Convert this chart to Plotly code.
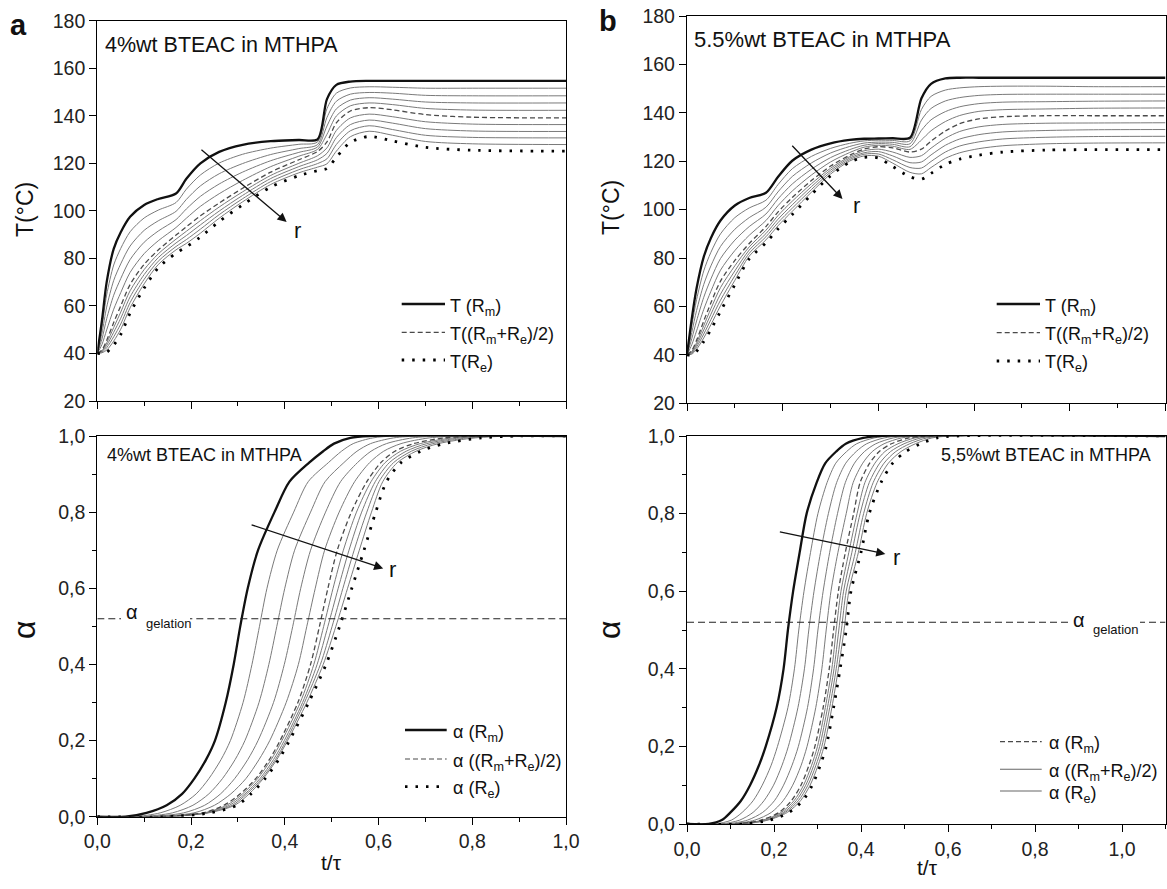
import plotly.graph_objects as go

W, H = 1167, 889
FONT = "Liberation Sans, Arial, Helvetica, sans-serif"

# ---------------- top-left : T vs t/tau, 4%wt BTEAC ----------------
t_top_4 = [0, 0.01, 0.02, 0.035, 0.05, 0.07, 0.1, 0.13, 0.168, 0.19, 0.22, 0.26, 0.31, 0.37,
           0.43, 0.47, 0.49, 0.51, 0.54, 0.58, 0.63, 0.7, 0.8, 1.0]
T4_r0 = [40, 54, 70, 84, 91, 97.5, 102.5, 105, 107.3, 113.5, 120, 124.8, 127.8, 129.3, 129.8, 130.1, 147, 153, 154.4, 154.7, 154.7, 154.7, 154.7, 154.7]
T4_r1 = [40, 51.3, 64.6, 77.2, 84.2, 91.2, 97, 100.3, 103.5, 109.1, 115.1, 120.1, 123.8, 126.4, 128, 129, 143, 149.5, 151.7, 152.2, 152, 151.6, 151.6, 151.6]
T4_r2 = [40, 48.6, 59.5, 70.7, 77.7, 85.2, 91.8, 95.8, 99.8, 104.8, 110.5, 115.6, 119.9, 123.7, 126.2, 127.9, 139.3, 146.1, 149.1, 149.8, 149.5, 148.6, 148.4, 148.4]
T4_r3 = [40, 46.1, 54.6, 64.5, 71.5, 79.5, 86.8, 91.5, 96.3, 100.8, 106.1, 111.3, 116.3, 121.1, 124.6, 126.9, 135.7, 142.9, 146.6, 147.6, 147, 145.8, 145.4, 145.4]
T4_r4 = [40, 43.8, 49.9, 58.6, 65.6, 74.1, 82, 87.4, 93, 96.9, 101.9, 107.2, 112.8, 118.6, 123, 125.9, 132.2, 139.9, 144.2, 145.4, 144.7, 143.1, 142.4, 142.3]
T4_r5 = [40, 41.5, 45.5, 53, 60, 69, 77.5, 83.5, 89.8, 93.3, 97.9, 103.3, 109.5, 116.3, 121.5, 125, 129, 137, 142, 143.4, 142.5, 140.5, 139.4, 139.1]
T4_r6 = [40, 41.2, 44.4, 50.9, 57.4, 66.4, 75.3, 81.9, 88.1, 91.4, 95.9, 101.6, 108, 114.9, 120, 123.2, 126.5, 133.8, 139.1, 140.7, 139.6, 137.5, 136.5, 136.3]
T4_r7 = [40, 40.9, 43.4, 48.9, 54.8, 63.8, 73.2, 80.3, 86.5, 89.6, 94.1, 99.9, 106.5, 113.6, 118.6, 121.5, 124.2, 130.8, 136.3, 138.2, 136.9, 134.6, 133.6, 133.4]
T4_r8 = [40, 40.6, 42.4, 47, 52.4, 61.4, 71.2, 78.8, 85, 87.9, 92.3, 98.4, 105.1, 112.3, 117.3, 119.9, 121.9, 127.9, 133.7, 135.8, 134.2, 131.8, 130.9, 130.7]
T4_r9 = [40, 40.3, 41.4, 45.2, 50.2, 59.2, 69.3, 77.4, 83.6, 86.3, 90.6, 96.9, 103.8, 111.1, 116, 118.4, 119.8, 125.1, 131.2, 133.5, 131.8, 129.2, 128.2, 127.9]
T4_r10 = [40, 40, 40.5, 43.5, 48, 57, 67.5, 76, 82.2, 84.8, 89, 95.5, 102.5, 110, 114.8, 116.9, 117.8, 122.5, 128.8, 131.3, 129.4, 126.7, 125.5, 125.1]

# ---------------- top-right : T vs t/tau, 5.5%wt BTEAC ----------------
t_top_55 = [0, 0.01, 0.02, 0.035, 0.05, 0.07, 0.1, 0.13, 0.165, 0.19, 0.22, 0.26, 0.3, 0.34,
            0.37, 0.4, 0.43, 0.466, 0.49, 0.51, 0.54, 0.57, 0.61, 0.66, 0.75, 0.85, 1.0]
T55_r0 = [40, 55, 67.5, 80.5, 88.3, 95.5, 101.7, 104.8, 107, 113.5, 120.2, 124.8, 127.4, 128.8, 129.3, 129.4, 129.5, 129.7, 146, 152, 154.2, 154.5, 154.5, 154.5, 154.5, 154.5, 154.5]
T55_r1 = [40, 52.1, 62.8, 74.7, 82.4, 90, 96.7, 100.7, 103.9, 110.3, 116.9, 122, 125.3, 127.4, 128.4, 128.7, 128.6, 128.4, 141.4, 146.8, 149.4, 150.3, 150.8, 151, 151, 150.8, 150.8]
T55_r2 = [40, 49.3, 58.3, 69.1, 76.8, 84.8, 91.9, 96.7, 101, 107.3, 113.7, 119.3, 123.4, 126.1, 127.5, 127.9, 127.8, 127.2, 137, 141.8, 144.9, 146.3, 147.2, 147.6, 147.7, 147.7, 147.7]
T55_r3 = [40, 46.7, 54, 63.8, 71.4, 79.8, 87.4, 93, 98.2, 104.4, 110.6, 116.7, 121.5, 124.8, 126.6, 127.3, 127, 126, 132.8, 137.1, 140.5, 142.5, 143.8, 144.4, 144.6, 144.8, 144.9]
T55_r4 = [40, 44.2, 49.9, 58.8, 66.3, 75, 83.1, 89.4, 95.5, 101.6, 107.7, 114.3, 119.7, 123.6, 125.8, 126.6, 126.2, 124.9, 128.8, 132.6, 136.4, 138.9, 140.6, 141.3, 141.6, 141.9, 142]
T55_r5 = [40, 41.8, 46, 54, 61.5, 70.5, 79, 86, 93, 99, 105, 112, 118, 122.5, 125, 126, 125.5, 123.8, 125, 128.3, 132.5, 135.5, 137.5, 138.4, 138.8, 138.8, 138.8]
T55_r6 = [40, 41.4, 45, 52.1, 59.1, 67.8, 76.8, 84.6, 91.5, 97.5, 103.5, 110.7, 117.1, 121.9, 124.3, 125, 123.8, 121.6, 122.3, 125.4, 129.5, 132.3, 134.2, 135.2, 135.7, 135.8, 135.9]
T55_r7 = [40, 41, 44.1, 50.3, 56.8, 65.1, 74.7, 83.3, 90.1, 96, 102, 109.5, 116.3, 121.3, 123.5, 124, 122.2, 119.4, 119.7, 122.6, 126.6, 129.2, 131, 132.1, 132.7, 133, 133.1]
T55_r8 = [40, 40.7, 43.2, 48.6, 54.6, 62.6, 72.7, 82, 88.8, 94.6, 100.6, 108.3, 115.5, 120.7, 122.9, 123, 120.6, 117.4, 117.2, 119.9, 123.8, 126.3, 128, 129.2, 129.9, 130.2, 130.3]
T55_r9 = [40, 40.3, 42.3, 47, 52.5, 60.3, 70.8, 80.8, 87.5, 93.3, 99.3, 107.2, 114.7, 120.1, 122.2, 122.1, 119.2, 115.4, 114.8, 117.4, 121.2, 123.5, 125.2, 126.4, 127.2, 127.5, 127.6]
T55_r10 = [40, 40, 41.5, 45.5, 50.5, 58, 69, 79.7, 86.3, 92, 98, 106.2, 114, 119.6, 121.6, 121.3, 117.8, 113.6, 112.6, 115, 118.7, 120.9, 122.5, 123.8, 124.6, 124.8, 124.8]

# ---------------- bottom panels : alpha levels and the t/tau where each radius reaches them ----------------
alpha_levels = [0, 0, 0.01, 0.03, 0.06, 0.1, 0.15, 0.2, 0.3, 0.4, 0.5, 0.6, 0.7, 0.8, 0.88, 0.93, 0.96, 0.98, 0.995, 1.0, 1.0]

a4_t_r0 = [0, 0.06, 0.105, 0.148, 0.181, 0.207, 0.232, 0.251, 0.274, 0.291, 0.305, 0.321, 0.343, 0.378, 0.41, 0.452, 0.482, 0.505, 0.54, 0.58, 1.0]
a4_t_r1 = [0, 0.077, 0.134, 0.177, 0.211, 0.238, 0.264, 0.284, 0.311, 0.33, 0.346, 0.362, 0.384, 0.419, 0.45, 0.493, 0.521, 0.546, 0.588, 0.638, 1.0]
a4_t_r2 = [0, 0.092, 0.16, 0.204, 0.238, 0.267, 0.294, 0.315, 0.345, 0.366, 0.383, 0.4, 0.421, 0.455, 0.486, 0.526, 0.554, 0.583, 0.632, 0.69, 1.0]
a4_t_r3 = [0, 0.106, 0.184, 0.229, 0.263, 0.293, 0.321, 0.343, 0.376, 0.399, 0.417, 0.434, 0.455, 0.487, 0.519, 0.555, 0.584, 0.617, 0.672, 0.738, 1.0]
a4_t_r4 = [0, 0.119, 0.206, 0.25, 0.285, 0.317, 0.345, 0.368, 0.403, 0.429, 0.447, 0.465, 0.485, 0.516, 0.549, 0.581, 0.611, 0.648, 0.708, 0.782, 1.0]
a4_t_r5 = [0, 0.13, 0.225, 0.27, 0.305, 0.338, 0.367, 0.39, 0.428, 0.455, 0.474, 0.492, 0.512, 0.542, 0.575, 0.605, 0.635, 0.675, 0.74, 0.82, 1.0]
a4_t_r6 = [0, 0.134, 0.228, 0.276, 0.31, 0.342, 0.371, 0.394, 0.433, 0.462, 0.483, 0.503, 0.525, 0.553, 0.584, 0.614, 0.647, 0.689, 0.758, 0.838, 1.0]
a4_t_r7 = [0, 0.139, 0.231, 0.282, 0.315, 0.347, 0.376, 0.399, 0.438, 0.469, 0.492, 0.514, 0.537, 0.564, 0.593, 0.623, 0.659, 0.703, 0.774, 0.854, 1.0]
a4_t_r8 = [0, 0.143, 0.234, 0.288, 0.319, 0.351, 0.38, 0.403, 0.442, 0.476, 0.501, 0.524, 0.548, 0.575, 0.601, 0.632, 0.67, 0.716, 0.79, 0.87, 1.0]
a4_t_r9 = [0, 0.146, 0.237, 0.293, 0.324, 0.354, 0.383, 0.406, 0.447, 0.482, 0.509, 0.534, 0.559, 0.585, 0.609, 0.64, 0.68, 0.728, 0.806, 0.886, 1.0]
a4_t_r10 = [0, 0.15, 0.24, 0.298, 0.328, 0.358, 0.387, 0.41, 0.451, 0.488, 0.517, 0.543, 0.569, 0.594, 0.617, 0.648, 0.69, 0.74, 0.82, 0.9, 1.0]

a55_t_r0 = [0, 0.05, 0.08, 0.1, 0.124, 0.145, 0.165, 0.181, 0.206, 0.222, 0.232, 0.244, 0.259, 0.275, 0.298, 0.318, 0.343, 0.365, 0.405, 0.44, 1.1]
a55_t_r1 = [0, 0.064, 0.102, 0.127, 0.152, 0.173, 0.193, 0.208, 0.232, 0.247, 0.257, 0.269, 0.284, 0.301, 0.322, 0.342, 0.367, 0.39, 0.43, 0.469, 1.1]
a55_t_r2 = [0, 0.078, 0.121, 0.152, 0.177, 0.199, 0.218, 0.233, 0.255, 0.27, 0.28, 0.292, 0.307, 0.325, 0.344, 0.365, 0.389, 0.413, 0.453, 0.495, 1.1]
a55_t_r3 = [0, 0.09, 0.139, 0.174, 0.201, 0.222, 0.241, 0.256, 0.277, 0.291, 0.301, 0.313, 0.328, 0.346, 0.364, 0.385, 0.408, 0.434, 0.474, 0.519, 1.1]
a55_t_r4 = [0, 0.1, 0.156, 0.194, 0.221, 0.243, 0.262, 0.276, 0.296, 0.31, 0.32, 0.331, 0.347, 0.366, 0.382, 0.404, 0.426, 0.453, 0.493, 0.541, 1.1]
a55_t_r5 = [0, 0.11, 0.17, 0.212, 0.24, 0.262, 0.28, 0.294, 0.313, 0.327, 0.337, 0.348, 0.364, 0.383, 0.398, 0.42, 0.442, 0.47, 0.51, 0.56, 1.1]
a55_t_r6 = [0, 0.114, 0.174, 0.217, 0.246, 0.268, 0.286, 0.3, 0.318, 0.333, 0.343, 0.354, 0.372, 0.391, 0.409, 0.432, 0.455, 0.485, 0.524, 0.573, 1.1]
a55_t_r7 = [0, 0.119, 0.179, 0.222, 0.251, 0.273, 0.291, 0.305, 0.323, 0.338, 0.349, 0.36, 0.379, 0.398, 0.419, 0.443, 0.468, 0.499, 0.538, 0.586, 1.1]
a55_t_r8 = [0, 0.123, 0.183, 0.226, 0.256, 0.278, 0.296, 0.31, 0.328, 0.343, 0.355, 0.366, 0.387, 0.406, 0.428, 0.453, 0.48, 0.512, 0.551, 0.598, 1.1]
a55_t_r9 = [0, 0.126, 0.186, 0.231, 0.261, 0.283, 0.301, 0.315, 0.333, 0.348, 0.361, 0.372, 0.394, 0.413, 0.437, 0.463, 0.492, 0.525, 0.563, 0.609, 1.1]
a55_t_r10 = [0, 0.13, 0.19, 0.235, 0.266, 0.288, 0.306, 0.32, 0.337, 0.352, 0.366, 0.377, 0.4, 0.419, 0.446, 0.473, 0.503, 0.537, 0.575, 0.62, 1.1]

alpha_gelation = 0.52
x_range_bottom_right = [0, 1.1]

T4 = [T4_r0, T4_r1, T4_r2, T4_r3, T4_r4, T4_r5, T4_r6, T4_r7, T4_r8, T4_r9, T4_r10]
T55 = [T55_r0, T55_r1, T55_r2, T55_r3, T55_r4, T55_r5, T55_r6, T55_r7, T55_r8, T55_r9, T55_r10]
A4 = [a4_t_r0, a4_t_r1, a4_t_r2, a4_t_r3, a4_t_r4, a4_t_r5, a4_t_r6, a4_t_r7, a4_t_r8, a4_t_r9, a4_t_r10]
A55 = [a55_t_r0, a55_t_r1, a55_t_r2, a55_t_r3, a55_t_r4, a55_t_r5, a55_t_r6, a55_t_r7, a55_t_r8, a55_t_r9, a55_t_r10]

# ---------------- styles ----------------
THICK = dict(color="#111111", width=2.3)
DASHED = dict(color="#4a4a4a", width=1.3, dash="5px,3px")
DOTTED = dict(color="#000000", width=2.8, dash="2.5px,8px")
THIN = dict(color="#7a7a7a", width=1.0)


def line_style(i):
    if i == 0:
        return THICK
    if i == 5:
        return DASHED
    if i == 10:
        return DOTTED
    return THIN


ORDER = [1, 2, 3, 4, 6, 7, 8, 9, 5, 10, 0]

fig = go.Figure()


def add_family(xs, ys, xa, ya):
    for i in ORDER:
        fig.add_trace(go.Scatter(
            x=xs[i], y=ys[i], mode="lines", xaxis=xa, yaxis=ya,
            line=dict(shape="spline", smoothing=0.8, **line_style(i)),
            hoverinfo="skip", showlegend=False))


add_family([t_top_4] * 11, T4, "x", "y")
add_family([t_top_55] * 11, T55, "x2", "y2")
add_family(A4, [alpha_levels] * 11, "x3", "y3")
add_family(A55, [alpha_levels] * 11, "x4", "y4")

# gelation lines
fig.add_trace(go.Scatter(x=[0, 1.0], y=[alpha_gelation] * 2, mode="lines", xaxis="x3", yaxis="y3",
                         line=dict(color="#222", width=1.1, dash="7px,4px"), hoverinfo="skip", showlegend=False))
fig.add_trace(go.Scatter(x=x_range_bottom_right, y=[alpha_gelation] * 2, mode="lines", xaxis="x4", yaxis="y4",
                         line=dict(color="#222", width=1.1, dash="7px,4px"), hoverinfo="skip", showlegend=False))

# ---------------- axes ----------------
TICKFONT = dict(family=FONT, size=19.5, color="#222")
common = dict(showgrid=False, zeroline=False, showline=True, linecolor="black", linewidth=1.3,
              mirror=True, ticks="outside", tickcolor="black", tickwidth=1.3, ticklen=7,
              tickfont=TICKFONT, automargin=False)
minor_x = dict(dtick=0.1, tick0=0, ticks="outside", ticklen=4, tickcolor="black", tickwidth=1.2)


def px(x):
    return x / W


def py(y):
    return 1 - y / H


L_DOM = [px(97.3), px(566)]
R_DOM = [px(687), px(1165.5)]

fig.update_layout(
    width=W, height=H, autosize=False,
    margin=dict(l=0, r=0, t=0, b=0, pad=0),
    paper_bgcolor="white", plot_bgcolor="white",
    separators=",.",
    xaxis=dict(common, domain=L_DOM, range=[0, 1], anchor="y", dtick=0.2, tick0=0,
               showticklabels=False, minor=minor_x),
    yaxis=dict(common, domain=[py(401), py(20.7)], range=[20, 180], anchor="x", dtick=20, tick0=20),
    xaxis2=dict(common, domain=R_DOM, range=[0, 1], anchor="y2", dtick=0.2, tick0=0,
                showticklabels=False, minor=minor_x),
    yaxis2=dict(common, domain=[py(403.3), py(16)], range=[20, 180], anchor="x2", dtick=20, tick0=20),
    xaxis3=dict(common, domain=L_DOM, range=[0, 1], anchor="y3", dtick=0.2, tick0=0,
                tickformat=".1f", minor=minor_x),
    yaxis3=dict(common, domain=[py(816.7), py(436)], range=[0, 1], anchor="x3", dtick=0.2, tick0=0,
                tickformat=".1f", minor=dict(minor_x)),
    xaxis4=dict(common, domain=R_DOM, range=x_range_bottom_right, anchor="y4", dtick=0.2, tick0=0,
                tickformat=".1f", minor=minor_x),
    yaxis4=dict(common, domain=[py(824), py(436)], range=[0, 1], anchor="x4", dtick=0.2, tick0=0,
                tickformat=".1f", minor=dict(minor_x)),
)

# ---------------- annotations ----------------
anns = []


def ann(x, y, text, size, xanchor="center", yanchor="middle", angle=0, color="#111"):
    anns.append(dict(x=px(x), y=py(y), xref="paper", yref="paper", text=text, showarrow=False,
                     xanchor=xanchor, yanchor=yanchor, textangle=angle,
                     font=dict(family=FONT, size=size, color=color)))


# panel letters
ann(18, 25, "<b>a</b>", 29)
ann(608, 21, "<b>b</b>", 29)
# axis titles
ann(25, 210, "T(°C)", 23, angle=-90)
ann(611, 208, "T(°C)", 23, angle=-90)
ann(24, 630, "α", 32, angle=-90)
ann(609, 630, "α", 32, angle=-90)
ann(331, 862, "t/τ", 21)
ann(927, 867, "t/τ", 21)
# panel texts
ann(103, 45, "4%wt BTEAC in MTHPA", 21.5, xanchor="left")
ann(692, 40, "5.5%wt BTEAC in MTHPA", 22, xanchor="left")
ann(105, 455, "4%wt BTEAC in MTHPA", 18, xanchor="left")
ann(1153, 455, "5,5%wt BTEAC in MTHPA", 18, xanchor="right")
# gelation labels (white patch hides the dashed line behind the text)
shapes = []
shapes.append(dict(type="rect", xref="paper", yref="paper", x0=px(121), x1=px(190), y0=py(628), y1=py(603),
                   fillcolor="white", line=dict(width=0), layer="above"))
shapes.append(dict(type="rect", xref="paper", yref="paper", x0=px(1068), x1=px(1140), y0=py(636), y1=py(611),
                   fillcolor="white", line=dict(width=0), layer="above"))
ann(132, 612, "α", 20)
ann(144, 623, "gelation", 13, xanchor="left")
ann(1078.5, 620, "α", 20)
ann(1091, 629.5, "gelation", 13, xanchor="left")

# r labels
ann(297, 231, "r", 22)
ann(856, 206, "r", 22)
ann(392, 569, "r", 22)
ann(896, 557, "r", 22)

# arrows (data coordinates)
for (xr, yr, x0, y0, x1, y1) in [("x", "y", 0.219, 126.2, 0.404, 95.3),
                                 ("x2", "y2", 0.217, 127.0, 0.325, 104.4),
                                 ("x3", "y3", 0.326, 0.768, 0.61, 0.652),
                                 ("x4", "y4", 0.21, 0.754, 0.456, 0.696)]:
    anns.append(dict(x=x1, y=y1, xref=xr, yref=yr, ax=x0, ay=y0, axref=xr, ayref=yr, text="",
                     showarrow=True, arrowhead=2, arrowsize=1.4, arrowwidth=1.3, arrowcolor="#111"))

# legends (manual)
LEG_STYLE = {
    "thick": dict(color="#111111", width=2.3),
    "dashed": dict(color="#4a4a4a", width=1.2, dash="5px,3px"),
    "dotted": dict(color="#000000", width=2.8, dash="2.5px,8px"),
    "thin": dict(color="#666666", width=1.1),
}


def legend(x0, x1, xt, rows, entries):
    for (yy, (sty, txt)) in zip(rows, entries):
        shapes.append(dict(type="line", xref="paper", yref="paper", x0=px(x0), x1=px(x1),
                           y0=py(yy), y1=py(yy), line=LEG_STYLE[sty], layer="above"))
        ann(xt, yy + 3, txt, 18, xanchor="left")


legend(401.7, 445, 448, [304, 332.3, 360],
       [("thick", "T (R<sub>m</sub>)"), ("dashed", "T((R<sub>m</sub>+R<sub>e</sub>)/2)"),
        ("dotted", "T(R<sub>e</sub>)")])
legend(996.7, 1040, 1043, [304, 332.7, 361],
       [("thick", "T (R<sub>m</sub>)"), ("dashed", "T((R<sub>m</sub>+R<sub>e</sub>)/2)"),
        ("dotted", "T(R<sub>e</sub>)")])
legend(405, 446.7, 450.5, [730, 759, 786.7],
       [("thick", "α (R<sub>m</sub>)"), ("dashed", "α ((R<sub>m</sub>+R<sub>e</sub>)/2)"),
        ("dotted", "α (R<sub>e</sub>)")])
legend(1000, 1041.7, 1047, [741.7, 769.3, 791],
       [("dashed", "α (R<sub>m</sub>)"), ("thin", "α ((R<sub>m</sub>+R<sub>e</sub>)/2)"),
        ("thin", "α (R<sub>e</sub>)")])

fig.update_layout(annotations=anns, shapes=shapes)
fig.write_html("out.html",
               config={"displayModeBar": False},
               post_script="document.body.style.margin='0';document.body.style.padding='0';"
                           "document.documentElement.style.overflow='hidden';")
